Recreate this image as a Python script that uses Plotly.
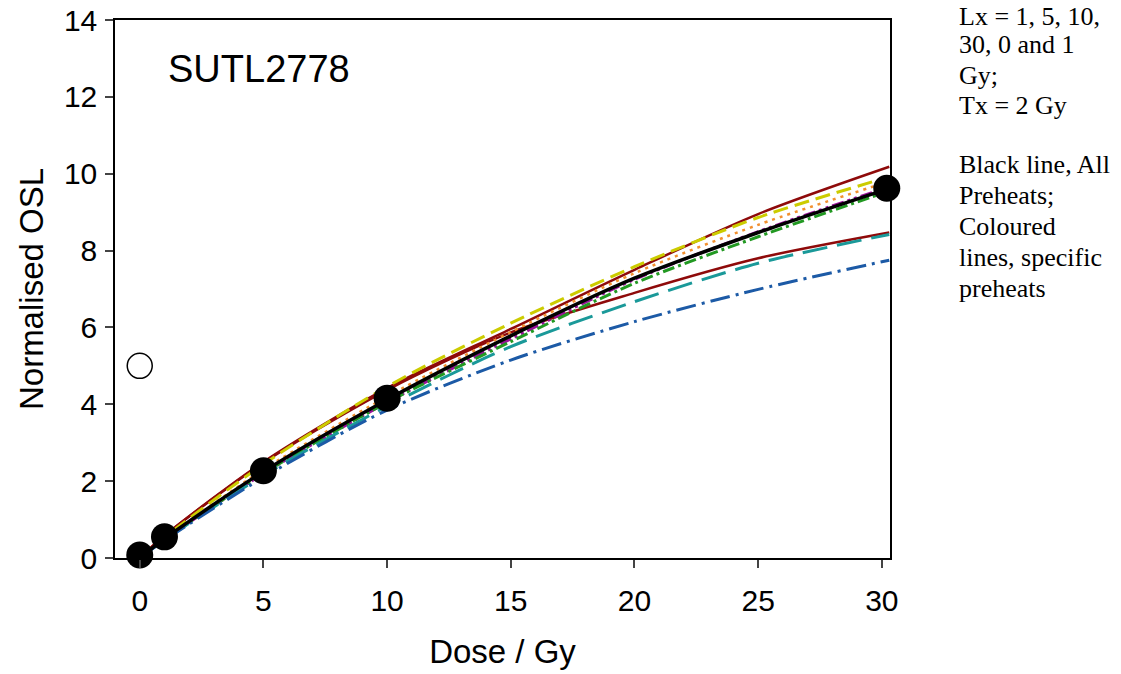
import plotly.graph_objects as go

# ---- data ----
dose_pts = [0.0, 1.0, 5.0, 10.0, 30.2]
osl_pts = [0.08, 0.55, 2.27, 4.16, 9.62]
open_dose = [0.0]
open_osl = [5.0]

curve_dose = [0.0, 1.0, 5.0, 10.0, 15.0, 20.0, 25.0, 30.3]
black_all = [0.0, 0.50, 2.25, 4.12, 5.78, 7.28, 8.47, 9.62]
red_upper = [0.0, 0.58, 2.50, 4.42, 5.96, 7.50, 8.95, 10.18]
red_lower = [0.0, 0.58, 2.48, 4.37, 5.87, 6.90, 7.80, 8.47]
yellow = [0.0, 0.54, 2.44, 4.46, 6.11, 7.58, 8.86, 9.92]
orange = [0.0, 0.50, 2.30, 4.20, 5.88, 7.41, 8.67, 9.80]
purple = [0.0, 0.48, 2.20, 4.05, 5.70, 7.25, 8.49, 9.66]
green = [0.0, 0.48, 2.20, 4.05, 5.63, 7.15, 8.36, 9.55]
teal = [0.0, 0.47, 2.15, 3.95, 5.50, 6.67, 7.67, 8.42]
blue = [0.0, 0.46, 2.10, 3.85, 5.15, 6.15, 6.99, 7.75]

x_ticks = [0, 5, 10, 15, 20, 25, 30]
y_ticks = [0, 2, 4, 6, 8, 10, 12, 14]

note_lines = ["Lx = 1, 5, 10,", "30, 0 and 1", "Gy;", "Tx = 2 Gy",
              "Black line, All", "Preheats;", "Coloured", "lines, specific", "preheats"]
note_px = [0, 44, 75, 105, 164, 195, 226, 257, 288]
note_anchor = ["top", "middle", "middle", "middle", "middle", "middle", "middle", "middle", "middle"]

fig = go.Figure()

styles = [
    (red_upper, "#8E0A0A", "solid", 2.5),
    (red_lower, "#8E0A0A", "solid", 2.5),
    (yellow, "#CCCC00", "15px,7px", 3),
    (orange, "#F29030", "3px,5px", 2.5),
    (purple, "#9A109A", "12px,4px,3px,4px,3px,4px", 3),
    (green, "#229922", "12px,4px,3px,4px", 3),
    (teal, "#1A9999", "25px,10px", 3),
    (blue, "#1C5AA6", "20px,6px,3px,6px", 3),
]
for ys, col, dash, w in styles:
    fig.add_trace(go.Scatter(x=curve_dose, y=ys, mode="lines",
                             line=dict(color=col, dash=dash, width=w, shape="spline", smoothing=0.8),
                             showlegend=False, hoverinfo="skip"))

fig.add_trace(go.Scatter(x=curve_dose, y=black_all, mode="lines",
                         line=dict(color="black", width=3.5, shape="spline", smoothing=0.8),
                         showlegend=False))

fig.add_trace(go.Scatter(x=dose_pts, y=osl_pts, mode="markers",
                         marker=dict(color="black", size=27, line=dict(width=0)),
                         showlegend=False, cliponaxis=False))
fig.add_trace(go.Scatter(x=open_dose, y=open_osl, mode="markers",
                         marker=dict(color="white", size=25, line=dict(color="black", width=1.5)),
                         showlegend=False, cliponaxis=False))

fig.add_annotation(text="SUTL2778", x=(259 - 115) / 775, y=(558 - 69) / 538, xref="paper", yref="paper",
                   showarrow=False, xanchor="center", yanchor="middle",
                   font=dict(family="Liberation Sans, Arial", size=38, color="black"))

for txt, py, anc in zip(note_lines, note_px, note_anchor):
    fig.add_annotation(text=txt, x=(957 - 115) / 775, y=(558 - py) / 538, xref="paper", yref="paper",
                       showarrow=False, xanchor="left", yanchor=anc,
                       font=dict(family="Liberation Serif, Times New Roman", size=26, color="black"))

fig.update_layout(
    width=1121, height=674,
    margin=dict(l=115, r=231, t=20, b=116, autoexpand=False),
    paper_bgcolor="white", plot_bgcolor="white",
    font=dict(family="Liberation Sans, Arial", color="black"),
    xaxis=dict(range=[-1, 30.33], tickvals=x_ticks, ticks="outside", ticklen=8, tickwidth=1.5,
               showline=True, linewidth=1.5, linecolor="black", mirror=True, showgrid=False,
               zeroline=False, tickfont=dict(size=30), ticklabelstandoff=7, automargin=False,
               title=dict(text="Dose / Gy", font=dict(size=33), standoff=24)),
    yaxis=dict(range=[0, 14], tickvals=y_ticks, ticks="outside", ticklen=8, tickwidth=1.5,
               showline=True, linewidth=1.5, linecolor="black", mirror=True, showgrid=False,
               zeroline=False, tickfont=dict(size=30), ticklabelstandoff=2, automargin=False,
               title=dict(text="Normalised OSL", font=dict(size=33), standoff=10)),
)

fig.write_html("out.html")
